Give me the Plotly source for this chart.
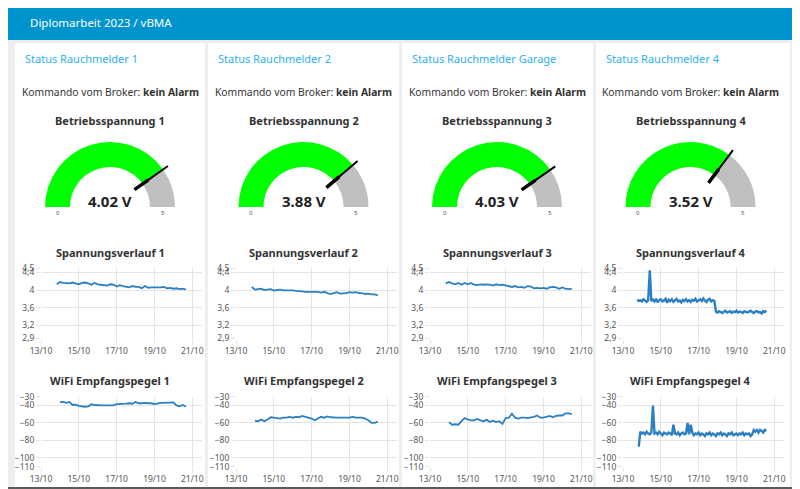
import pandas as pd
import plotly.graph_objects as go

# the browser puts the figure 8 px from the window's top-left corner,
# so the figure is 8 px smaller than the 800x489 window
OFF = 8
W, H = 800 - OFF, 489 - OFF

# ---- data -------------------------------------------------------------
page_title = "Diplomarbeit 2023 / vBMA"
group_titles = ["Status Rauchmelder 1", "Status Rauchmelder 2",
                "Status Rauchmelder Garage", "Status Rauchmelder 4"]
broker_state = ["kein Alarm", "kein Alarm", "kein Alarm", "kein Alarm"]
gauge_titles = ["Betriebsspannung 1", "Betriebsspannung 2",
                "Betriebsspannung 3", "Betriebsspannung 4"]
gauge_values = [4.02, 3.88, 4.03, 3.52]
gauge_min, gauge_max = 0, 5
volt_titles = ["Spannungsverlauf 1", "Spannungsverlauf 2",
               "Spannungsverlauf 3", "Spannungsverlauf 4"]
wifi_titles = ["WiFi Empfangspegel 1", "WiFi Empfangspegel 2",
               "WiFi Empfangspegel 3", "WiFi Empfangspegel 4"]

volt_ticks = [2.9, 3.2, 3.6, 4, 4.4, 4.5]
wifi_ticks = [-110, -100, -80, -60, -40, -30]

# sensors 1-3 report every 4 h, sensor 4 every 2 h
start_1_3 = "2023-10-13 20:00"
start_4 = "2023-10-13 18:00"

volt_1 = [4.13, 4.18, 4.16, 4.16, 4.15, 4.17, 4.15, 4.13, 4.16, 4.17, 4.15, 4.12,
          4.16, 4.13, 4.12, 4.11, 4.10, 4.13, 4.12, 4.08, 4.11, 4.09, 4.08, 4.06,
          4.09, 4.07, 4.07, 4.04, 4.09, 4.05, 4.06, 4.06, 4.05, 4.06, 4.07, 4.04,
          4.05, 4.03, 4.04, 4.02, 4.03, 4.01]
volt_2 = [4.07, 4.01, 4.02, 4.03, 4.00, 4.01, 4.02, 3.99, 4.00, 4.01, 3.99, 3.99,
          4.00, 3.99, 3.98, 3.98, 3.97, 3.96, 3.96, 3.96, 3.95, 3.96, 3.94, 3.96,
          3.93, 3.91, 3.93, 3.95, 3.92, 3.92, 3.93, 3.95, 3.94, 3.95, 3.93, 3.93,
          3.91, 3.92, 3.90, 3.90, 3.88]
volt_3 = [4.15, 4.18, 4.15, 4.13, 4.16, 4.12, 4.16, 4.13, 4.16, 4.12, 4.11, 4.13,
          4.12, 4.13, 4.12, 4.10, 4.13, 4.11, 4.12, 4.10, 4.09, 4.07, 4.09, 4.06,
          4.07, 4.05, 4.09, 4.08, 4.04, 4.05, 4.04, 4.05, 4.03, 4.06, 4.07, 4.06,
          4.03, 4.06, 4.03, 4.02, 4.03]
volt_4 = [3.78, 3.75, 3.77, 3.74, 3.79, 3.76, 3.73, 3.77, 4.45, 3.75, 3.78, 3.74,
          3.80, 3.72, 3.77, 3.79, 3.74, 3.76, 3.80, 3.71, 3.78, 3.75, 3.79, 3.73,
          3.77, 3.80, 3.74, 3.76, 3.72, 3.78, 3.75, 3.79, 3.74, 3.77, 3.73, 3.78,
          3.76, 3.80, 3.74, 3.77, 3.79, 3.75, 3.81, 3.76, 3.73, 3.78, 3.80, 3.74,
          3.77, 3.75, 3.51, 3.49, 3.52, 3.50, 3.48, 3.51, 3.53, 3.49, 3.50, 3.52,
          3.48, 3.51, 3.50, 3.53, 3.49, 3.51, 3.50, 3.48, 3.52, 3.50, 3.49, 3.51,
          3.53, 3.50, 3.48, 3.51, 3.52, 3.49, 3.50, 3.47, 3.52, 3.50, 3.53]

wifi_1 = [None, -36.5, -36, -37, -36, -39.5, -39, -40.5, -41, -41.5, -41, -38.5,
          -39.5, -40, -40, -40, -40, -40, -40, -38.5, -38.5, -38, -38, -37.5,
          -38, -36, -37.5, -37.5, -37, -37.5, -37.5, -38.5, -37.5, -37, -37, -37,
          -36.5, -36.5, -40, -41, -39.5, -41.5]
wifi_2 = [None, -57.5, -58, -56, -58, -56, -53.5, -54, -54.5, -55, -54, -54,
          -53, -54, -53, -53.5, -52, -53, -54, -55, -57, -55, -53, -54,
          -52.5, -53.5, -54, -54, -54, -54, -54, -54, -53, -54, -54, -54,
          -55, -57, -60, -60, -58.5]
wifi_3 = [None, -59, -62, -61.5, -62, -58, -54.5, -56, -57, -57, -55.5, -57,
          -58, -56.5, -59, -57.5, -59, -58, -61, -54.5, -54, -49.5, -54, -55,
          -54, -54, -54.5, -53.5, -53, -51.5, -54, -54, -53, -52, -53.5, -52,
          -51.5, -51.5, -49, -49, -50]
wifi_4 = [None, -87, -70, -72, -71, -73, -70, -72, -73, -71, -40, -72,
          -71, -73, -70, -72, -74, -71, -72, -73, -71, -72, -74, -62,
          -72, -73, -71, -74, -72, -71, -73, -72, -60, -73, -62, -71,
          -74, -72, -73, -71, -74, -72, -73, -75, -72, -73, -71, -74,
          -72, -73, -75, -72, -73, -71, -74, -72, -73, -75, -72, -73,
          -71, -74, -73, -72, -74, -72, -73, -71, -74, -72, -73, -72,
          -75, -73, -68, -70, -68, -71, -68, -69, -71, -68, -69]

volt_series = [volt_1, volt_2, volt_3, volt_4]
wifi_series = [wifi_1, wifi_2, wifi_3, wifi_4]
starts = [start_1_3, start_1_3, start_1_3, start_4]
steps = ["4h", "4h", "4h", "2h"]

# ---- layout helpers (window pixels -> paper) ---------------------------
def px(x):
    return (x - OFF) / W


def py(y):
    return 1 - (y - OFF) / H


col_center = [110, 303.5, 497, 690.5]
card_left = [15, 208, 402, 596]
card_right = [205, 399, 593, 790]
chart_left = [41, 236, 430, 623]
chart_w = 160.7
blue = "#0094ce"
line_blue = "#2a80c2"
grid = "#e4e4e4"
font = "Noto Sans"

fig = go.Figure()
shapes = []
annotations = []


def label(x, y, text, size, color="#333333", weight=None, xanchor="center"):
    annotations.append(dict(
        x=px(x), y=py(y), xref="paper", yref="paper", text=text, showarrow=False,
        xanchor=xanchor, yanchor="middle",
        font=dict(family=font, size=size, color=color, weight=weight)))


# page header + cards
shapes.append(dict(type="rect", xref="paper", yref="paper", x0=0, x1=1,
                   y0=py(40), y1=1, fillcolor=blue, line_width=0, layer="below"))
label(28, 22, page_title, 11.5, "white", xanchor="left")
for i in range(4):
    shapes.append(dict(type="rect", xref="paper", yref="paper",
                       x0=px(card_left[i]), x1=px(card_right[i]),
                       y0=0, y1=py(43), fillcolor="white", line_width=0,
                       layer="below"))

# ---- gauges -----------------------------------------------------------
R_out = 71.5   # needle tip radius in px (radial axis max)
hole_px = 30.0
for i, v in enumerate(gauge_values):
    c = col_center[i]
    name = "polar" if i == 0 else f"polar{i + 1}"
    ang = (v - gauge_min) / (gauge_max - gauge_min) * 180
    fig.add_trace(go.Barpolar(
        r=[25, 25], base=[10, 10],
        theta=[ang / 2, (ang + 180) / 2], width=[ang, 180 - ang],
        marker=dict(color=["#00ff00", "#c0c0c0"], line_width=0),
        subplot=name, hoverinfo="skip"))
    fig.add_trace(go.Scatterpolar(
        r=[0, 41], theta=[ang, ang], mode="lines",
        line=dict(color="black", width=2), subplot=name, hoverinfo="skip"))
    fig.add_trace(go.Scatterpolar(
        r=[0, 17], theta=[ang, ang], mode="lines",
        line=dict(color="black", width=3.5), subplot=name, hoverinfo="skip"))
    fig.layout[name] = dict(
        domain=dict(x=[px(c - R_out), px(c + R_out)], y=[py(207), py(207 - R_out)]),
        sector=[0, 180], hole=hole_px / R_out, bgcolor="rgba(0,0,0,0)",
        radialaxis=dict(range=[0, R_out - hole_px], visible=False),
        angularaxis=dict(rotation=180, direction="clockwise", visible=False))
    label(c, 200.5, f"{v:.2f} V", 15, "#222222", weight="bold")
    label(c - 52.5, 213, str(gauge_min), 6, "#555555")
    label(c + 52.5, 213, str(gauge_max), 6, "#555555")

    label(card_left[i] + 8, 58.5, group_titles[i], 11, "#2bb0f4", xanchor="left")
    label(c, 92, f"Kommando vom Broker: <b>{broker_state[i]}</b>", 10.3, "#333333")
    label(c, 121, gauge_titles[i], 11, "#333333", weight="bold")
    label(c, 252.5, volt_titles[i], 11, "#333333", weight="bold")
    label(c, 380.5, wifi_titles[i], 11, "#333333", weight="bold")

# ---- line charts ------------------------------------------------------
charts = []
for i in range(4):
    charts.append((i, volt_series[i], volt_ticks, 338.5, 268))
for i in range(4):
    charts.append((i, wifi_series[i], wifi_ticks, 466.7, 396.7))

for k, (i, vals, ticks, y_bot, y_top) in enumerate(charts):
    n = k + 1
    times = pd.date_range(starts[i], periods=len(vals), freq=steps[i])
    fig.add_trace(go.Scatter(
        x=times, y=vals, mode="lines",
        line=dict(color=line_blue, width=1.8 if i < 3 else 2.4),
        xaxis=f"x{n}", yaxis=f"y{n}", hoverinfo="skip"))
    fig.layout[f"xaxis{n}"] = dict(
        domain=[px(chart_left[i]), px(chart_left[i] + chart_w)],
        anchor=f"y{n}", type="date", automargin=False,
        range=["2023-10-13", "2023-10-21 12:00"],
        tick0="2023-10-13", dtick=2 * 86400000, tickformat="%d/%m",
        showgrid=True, gridcolor=grid, zeroline=False, showline=False,
        ticks="outside", ticklen=4, tickcolor=grid,
        tickfont=dict(family=font, size=8.5, color="#555555"))
    fig.layout[f"yaxis{n}"] = dict(
        domain=[py(y_bot), py(y_top)], anchor=f"x{n}", automargin=False,
        range=[ticks[0], ticks[-1]], tickvals=ticks,
        showgrid=True, gridcolor=grid, zeroline=False, showline=False,
        ticks="outside", ticklen=4, tickcolor=grid,
        tickfont=dict(family=font, size=8.5, color="#555555"))

# screenshot frame on the right and bottom edge
shapes.append(dict(type="line", xref="paper", yref="paper", x0=px(798), x1=px(798),
                   y0=0, y1=1, line=dict(color="#5a5a5a", width=2)))
shapes.append(dict(type="line", xref="paper", yref="paper", x0=0, x1=1,
                   y0=py(488), y1=py(488), line=dict(color="#5a5a5a", width=2)))

fig.update_layout(
    width=W, height=H,
    margin=dict(l=0, r=0, t=0, b=0, pad=0, autoexpand=False),
    paper_bgcolor="#eeeeee", plot_bgcolor="white",
    separators=",.", showlegend=False,
    shapes=shapes, annotations=annotations)

fig.write_html("out.html")
